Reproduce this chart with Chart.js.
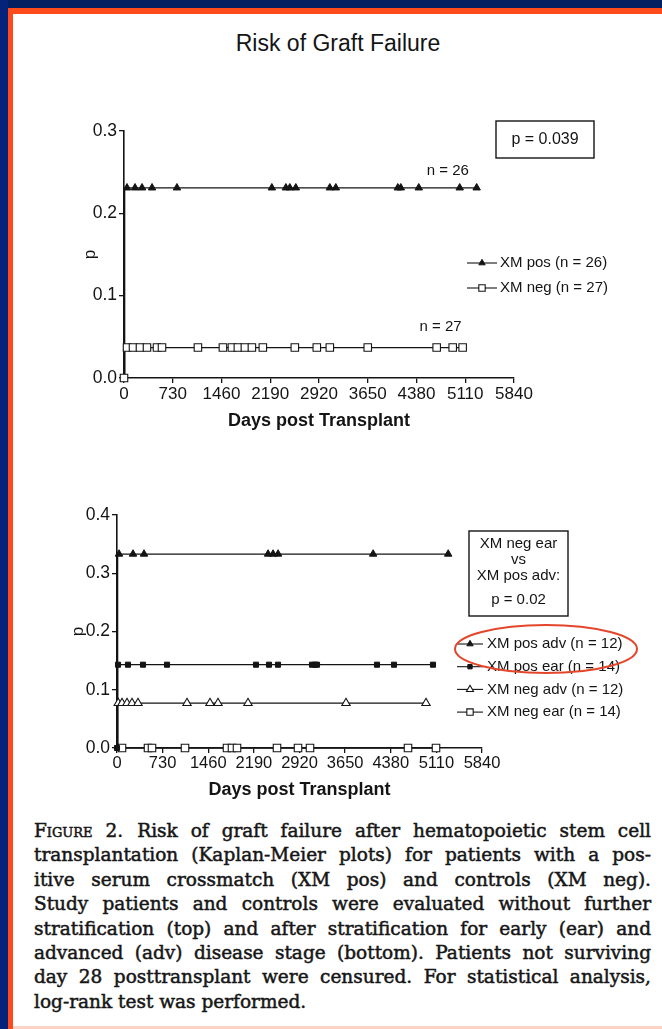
<!DOCTYPE html>
<html>
<head>
<meta charset="utf-8">
<title>Risk of Graft Failure</title>
<script src="https://cdn.jsdelivr.net/npm/chart.js@4.4.1/dist/chart.umd.min.js"></script>
<style>
  html, body { margin: 0; padding: 0; background: #fff; }
  #page { position: relative; width: 662px; height: 1029px; overflow: hidden; background: #fff; }
  .band { position: absolute; }
  #navyTop  { left: 0; top: 0; width: 662px; height: 8px; background: #02205f; }
  #navyLeft { left: 0; top: 0; width: 8px; height: 1029px; background: #05237a; }
  #orTop    { left: 8px; top: 8px; width: 654px; height: 6px; background: #ff4a1c; }
  #orLeft   { left: 8px; top: 8px; width: 5px; height: 1029px; background: #ff4a1c; }
  #orBottom { left: 13px; top: 1026px; width: 649px; height: 3px; background: #fcd3c6; }
  #title { position: absolute; left: 0; width: 676px; top: 30px; text-align: center;
           font: 23px "Liberation Sans", Arial, sans-serif; color: #141414; }
  canvas { position: absolute; left: 0; }
  #topPanel { top: 95px; }
  #bottomPanel { top: 490px; }
  .cap { position: absolute; left: 34px; white-space: nowrap; color: #161616;
         font: 18.5px "DejaVu Serif", serif; -webkit-text-stroke: 0.5px #161616; line-height: 22px; }
  .sc { font-variant: small-caps; margin-right: 14px; }
</style>
</head>
<body>
<div id="page">
  <div class="band" id="navyTop"></div>
  <div class="band" id="navyLeft"></div>
  <div class="band" id="orTop"></div>
  <div class="band" id="orLeft"></div>
  <div class="band" id="orBottom"></div>

  <div id="title">Risk of Graft Failure</div>

  <canvas id="topPanel" width="662" height="345" style="width:662px;height:345px"></canvas>
  <canvas id="bottomPanel" width="662" height="330" style="width:662px;height:330px"></canvas>

  <div id="caption"></div>
</div>

<script>
// ---------- shared axis values ----------
const dayTicks = [0, 730, 1460, 2190, 2920, 3650, 4380, 5110, 5840];
const topRiskTicks = [0, 0.1, 0.2, 0.3];
const bottomRiskTicks = [0, 0.1, 0.2, 0.3, 0.4];

// ---------- top panel: all patients ----------
const topNames = ['XM pos (n = 26)', 'XM neg (n = 27)'];
const topRisk = [0.231, 0.037];          // cumulative risk after the early failures
const topEventDay = [10, 10];            // graft failures occur in the first days
const topStartMark = [false, true];      // censor symbol drawn at the origin
const xmPosCensored = [45, 165, 270, 420, 793, 2214, 2424, 2483, 2573, 3082, 3172, 4100, 4145, 4414, 5027, 5281];
const xmNegCensored = [45, 135, 239, 344, 494, 569, 1107, 1481, 1616, 1705, 1810, 1915, 2079, 2558, 2887, 3082, 3650, 4682, 4922, 5071];
const topCensored = [xmPosCensored, xmNegCensored];
const topPValue = 'p = 0.039';
const topCounts = ['n = 26', 'n = 27'];
const topCountDay = [4850, 4740];

// ---------- bottom panel: stratified by disease stage ----------
const bottomNames = ['XM pos adv (n = 12)', 'XM pos ear (n = 14)', 'XM neg adv (n = 12)', 'XM neg ear (n = 14)'];
const bottomRisk = [0.333, 0.143, 0.077, 0];
const bottomEventDay = [10, 10, 10, 0];
const bottomStartMark = [false, true, false, false];
const posAdvCensored = [32, 256, 432, 2417, 2497, 2577, 4098, 5299];
const posEarCensored = [16, 176, 416, 800, 2224, 2432, 2576, 3120, 3168, 3200, 4160, 4432, 5056];
const negAdvCensored = [20, 80, 160, 240, 336, 1120, 1488, 1616, 2096, 3664, 4944];
const negEarCensored = [80, 496, 560, 1088, 1760, 1840, 1920, 2560, 2896, 3088, 4656, 5104];
const bottomCensored = [posAdvCensored, posEarCensored, negAdvCensored, negEarCensored];
const bottomPValueLines = ['XM neg ear', 'vs', 'XM pos adv:', 'p = 0.02'];

// ---------- caption ----------
const captionLead = 'Figure 2.';
const captionLines = [
  'Risk of graft failure after hematopoietic stem cell',
  'transplantation (Kaplan-Meier plots) for patients with a pos-',
  'itive serum crossmatch (XM pos) and controls (XM neg).',
  'Study patients and controls were evaluated without further',
  'stratification (top) and after stratification for early (ear) and',
  'advanced (adv) disease stage (bottom). Patients not surviving',
  'day 28 posttransplant were censured. For statistical analysis,',
  'log-rank test was performed.'
];

// ---------- styling ----------
const FONT = '"Liberation Sans", Arial, sans-serif';
const INK = '#141414';
const symbols = {
  filledTriangle: { pointStyle: 'triangle', pointRadius: 4.3, backgroundColor: INK, borderColor: INK, borderWidth: 1 },
  openSquare:     { pointStyle: 'rect', pointRadius: 5.3, backgroundColor: '#fff', borderColor: INK, borderWidth: 1.1 },
  filledSquare:   { pointStyle: 'rect', pointRadius: 3.6, backgroundColor: INK, borderColor: INK, borderWidth: 1 },
  openTriangle:   { pointStyle: 'triangle', pointRadius: 4.8, backgroundColor: '#fff', borderColor: INK, borderWidth: 1.1 }
};

// Kaplan-Meier step curve: flat at 0, one early jump, then flat until the last follow-up
function stepCurve(risk, eventDay, censored) {
  const last = censored[censored.length - 1];
  return risk > 0
    ? [{ x: 0, y: 0 }, { x: eventDay, y: risk }, { x: last, y: risk }]
    : [{ x: 0, y: 0 }, { x: last, y: 0 }];
}

function buildDatasets(names, risks, eventDays, censoredLists, startMarks, styles) {
  const sets = [];
  names.forEach((name, i) => {
    sets.push({
      label: name,
      data: stepCurve(risks[i], eventDays[i], censoredLists[i]),
      stepped: true,
      borderColor: INK,
      borderWidth: 1.3,
      pointRadius: 0,
      fill: false,
      clip: false,
      order: 2
    });
    const marks = censoredLists[i].map(d => ({ x: d, y: risks[i] }));
    if (startMarks[i]) marks.unshift({ x: 0, y: 0 });
    sets.push(Object.assign({
      label: name + ' censored',
      data: marks,
      showLine: false,
      clip: false,
      order: 1
    }, styles[i]));
  });
  return sets;
}

// text, boxes, legend and highlight drawn on top of each panel
const panelNotes = {
  id: 'panelNotes',
  afterDraw(chart, args, opts) {
    const ctx = chart.ctx;
    const xs = chart.scales.x, ys = chart.scales.y;
    ctx.save();
    ctx.textBaseline = 'middle';
    ctx.fillStyle = INK;
    ctx.strokeStyle = INK;

    (opts.counts || []).forEach(c => {
      ctx.font = '15px ' + FONT;
      ctx.textAlign = 'center';
      ctx.fillText(c.text, xs.getPixelForValue(c.day), ys.getPixelForValue(c.risk) - c.lift);
    });

    if (opts.box) {
      const b = opts.box;
      ctx.lineWidth = 1.4;
      ctx.strokeRect(b.x, b.y, b.w, b.h);
      ctx.font = b.size + 'px ' + FONT;
      ctx.textAlign = 'center';
      b.lines.forEach((t, i) => ctx.fillText(t, b.x + b.w / 2, b.y + b.rows[i]));
    }

    if (opts.legend) {
      const L = opts.legend;
      L.items.forEach((it, i) => {
        const y = L.y + i * L.step;
        ctx.strokeStyle = INK;
        ctx.lineWidth = 1.1;
        ctx.beginPath();
        ctx.moveTo(L.x0, y);
        ctx.lineTo(L.x1, y);
        ctx.stroke();
        ctx.fillStyle = it.style.backgroundColor;
        ctx.lineWidth = it.style.borderWidth;
        Chart.helpers.drawPoint(ctx, {
          pointStyle: it.style.pointStyle,
          radius: it.style.pointRadius * 0.85,
          borderWidth: it.style.borderWidth,
          rotation: 0
        }, (L.x0 + L.x1) / 2, y);
        ctx.fillStyle = INK;
        ctx.textAlign = 'left';
        ctx.font = '15px ' + FONT;
        ctx.fillText(it.label, L.tx, y);
      });
    }

    if (opts.ring) {
      const r = opts.ring;
      ctx.strokeStyle = r.color;
      ctx.lineWidth = 2;
      ctx.beginPath();
      ctx.ellipse(r.cx, r.cy, r.rx, r.ry, r.rot, 0, Math.PI * 2);
      ctx.stroke();
    }
    ctx.restore();
  }
};

function axes(riskTicks, yMax, xHeight, yTitlePad, xTickSize, yTickSize) {
  return {
    x: {
      type: 'linear', min: 0, max: 5840,
      afterBuildTicks: s => { s.ticks = dayTicks.map(v => ({ value: v })); },
      afterFit: s => { s.height = xHeight; },
      border: { display: true, color: INK, width: 1.6 },
      grid: { display: true, drawOnChartArea: false, drawTicks: true, tickLength: 5, color: INK, lineWidth: 1.3 },
      ticks: { color: INK, font: { family: FONT, size: xTickSize }, padding: 1, autoSkip: false, maxRotation: 0,
               callback: v => String(v) },
      title: { display: true, text: 'Days post Transplant', color: INK,
               font: { family: FONT, size: 18, weight: 'bold' }, padding: { top: 0, bottom: 4 } }
    },
    y: {
      type: 'linear', min: 0, max: yMax,
      afterBuildTicks: s => { s.ticks = riskTicks.map(v => ({ value: v })); },
      afterFit: s => { s.width = 50; },
      border: { display: true, color: INK, width: 1.6 },
      grid: { display: true, drawOnChartArea: false, drawTicks: true, tickLength: 5, color: INK, lineWidth: 1.3 },
      ticks: { color: INK, font: { family: FONT, size: yTickSize }, padding: 2, callback: v => v.toFixed(1) },
      title: { display: true, text: 'p', color: INK, font: { family: FONT, size: 17 },
               padding: { top: yTitlePad, bottom: 0 } }
    }
  };
}

function legendItems(names, styles) {
  return names.map((n, i) => ({ label: n, style: styles[i] }));
}

// ---------- top panel ----------
const topStyles = [symbols.filledTriangle, symbols.openSquare];
new Chart(document.getElementById('topPanel'), {
  type: 'line',
  data: { datasets: buildDatasets(topNames, topRisk, topEventDay, topCensored, topStartMark, topStyles) },
  options: {
    responsive: false, animation: false, events: [], devicePixelRatio: 1,
    layout: { padding: { left: 74, right: 148, top: 36, bottom: 4 } },
    scales: axes(topRiskTicks, 0.3, 58, 6, 17, 17.5),
    plugins: {
      legend: { display: false },
      tooltip: { enabled: false },
      panelNotes: {
        counts: [
          { text: topCounts[0], day: topCountDay[0], risk: topRisk[0], lift: 17 },
          { text: topCounts[1], day: topCountDay[1], risk: topRisk[1], lift: 21 }
        ],
        box: { x: 496, y: 26, w: 98, h: 37, size: 16, lines: [topPValue], rows: [19] },
        legend: { x0: 467, x1: 497, tx: 500, y: 168, step: 25, items: legendItems(topNames, topStyles) }
      }
    }
  },
  plugins: [panelNotes]
});

// ---------- bottom panel ----------
const bottomStyles = [symbols.filledTriangle, symbols.filledSquare, symbols.openTriangle, symbols.openSquare];
new Chart(document.getElementById('bottomPanel'), {
  type: 'line',
  data: { datasets: buildDatasets(bottomNames, bottomRisk, bottomEventDay, bottomCensored, bottomStartMark, bottomStyles) },
  options: {
    responsive: false, animation: false, events: [], devicePixelRatio: 1,
    layout: { padding: { left: 67, right: 180, top: 25, bottom: 15 } },
    scales: axes(bottomRiskTicks, 0.4, 57, 1, 16.5, 17.5),
    plugins: {
      legend: { display: false },
      tooltip: { enabled: false },
      panelNotes: {
        box: { x: 469, y: 41, w: 99, h: 85, size: 15, lines: bottomPValueLines, rows: [13, 29, 45, 69] },
        legend: { x0: 457, x1: 483, tx: 487, y: 154, step: 22.7, items: legendItems(bottomNames, bottomStyles) },
        ring: { cx: 546, cy: 159, rx: 91, ry: 24, rot: 0, color: '#e4462b' }
      }
    }
  },
  plugins: [panelNotes]
});

// ---------- caption, justified line by line ----------
(function () {
  const holder = document.getElementById('caption');
  const textWidth = 617;
  captionLines.forEach((line, i) => {
    const div = document.createElement('div');
    div.className = 'cap';
    div.style.top = (820 + i * 24.4) + 'px';
    const span = document.createElement('span');
    if (i === 0) {
      const lead = document.createElement('span');
      lead.className = 'sc';
      lead.textContent = captionLead;
      span.appendChild(lead);
    }
    span.appendChild(document.createTextNode(line));
    div.appendChild(span);
    holder.appendChild(div);
    if (i < captionLines.length - 1) {
      const natural = span.getBoundingClientRect().width;
      const text = span.textContent;
      const gaps = (text.match(/ /g) || []).length;
      let ws = (textWidth - natural) / gaps;
      if (ws < -1.2) {
        // too long for the measure: tighten the letters as well
        ws = -1.2;
        const ls = (textWidth - natural - ws * gaps) / text.length;
        span.style.letterSpacing = ls + 'px';
      }
      span.style.wordSpacing = ws + 'px';
    }
  });
})();
</script>
</body>
</html>
